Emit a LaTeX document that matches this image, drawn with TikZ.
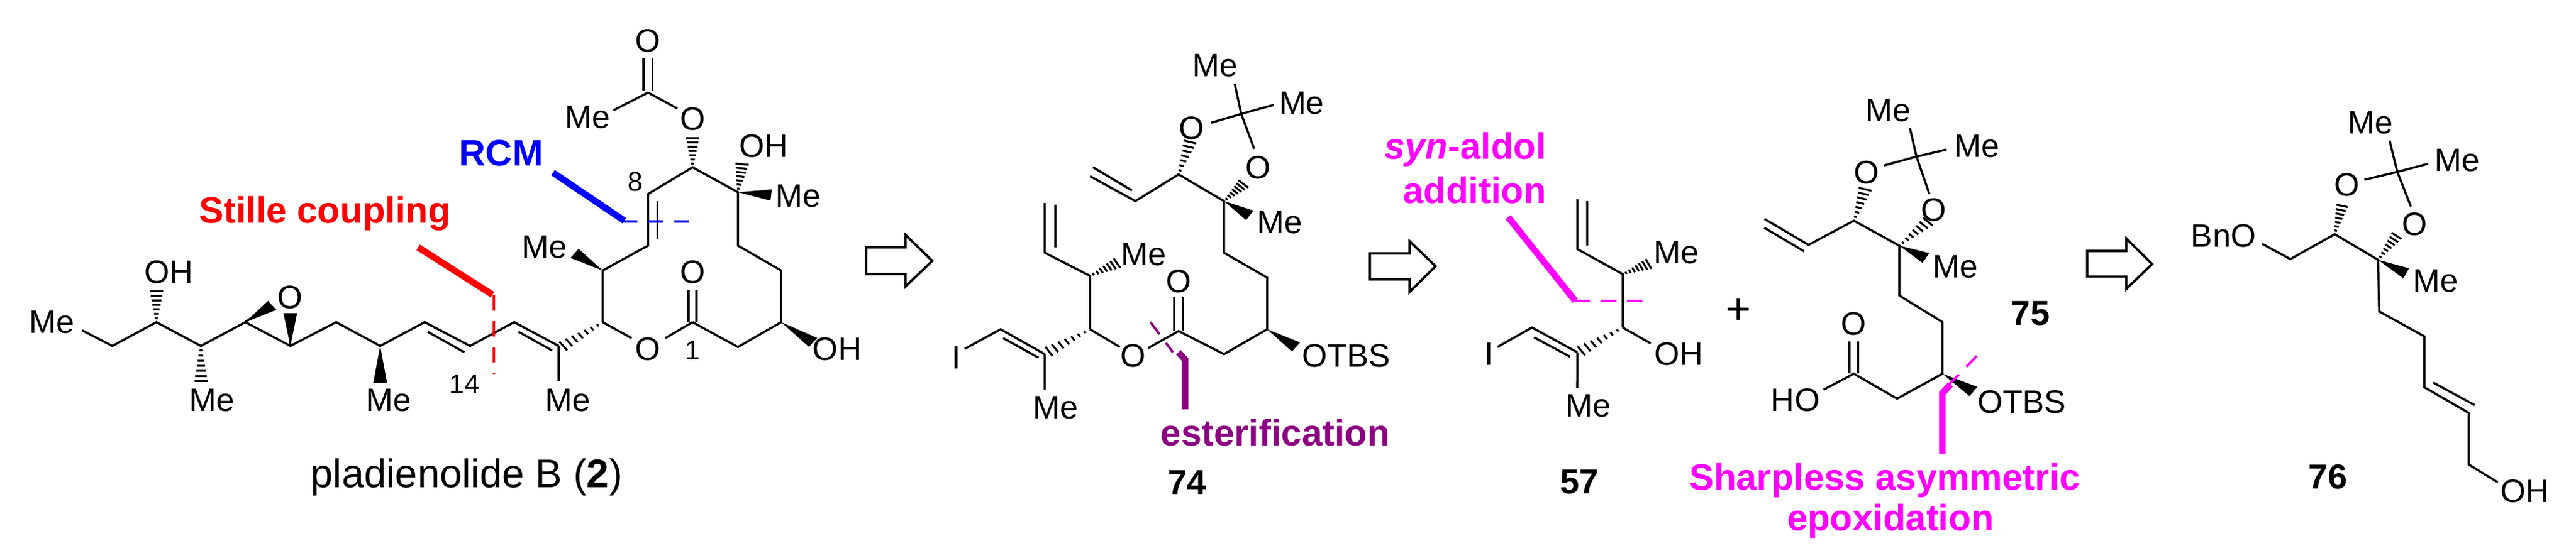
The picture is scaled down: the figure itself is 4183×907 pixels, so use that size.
\documentclass[tikz,border=0pt]{standalone}
\usepackage{fontspec}
\setmainfont{Liberation Sans}
\usetikzlibrary{calc}
\definecolor{esterc}{RGB}{140,0,130}
\definecolor{magc}{RGB}{255,0,255}
\newcommand\hashbond[2]{\foreach \t in {0.12,0.26,...,0.98}{\pgfmathsetmacro\hw{0.5+\t*4}\path ($(#1)!\t!(#2)$) coordinate (hp); \draw[line width=0.9pt] ($(hp)!\hw pt!90:(#1)$) -- ($(hp)!\hw pt!-90:(#1)$);}}
\newcommand\wedgebond[2]{\fill (#1) -- ($(#2)!4.5pt!90:(#1)$) -- ($(#2)!4.5pt!-90:(#1)$) -- cycle;}
\tikzset{every node/.style={font=\fontsize{15}{18}\selectfont, inner sep=0pt},
  bond/.style={line width=1pt},
  small/.style={font=\fontsize{12.5}{14}\selectfont},
  cmpd/.style={font=\fontsize{16}{18}\selectfont\bfseries},
  thickline/.style={line width=3pt},
  cutline/.style={line width=1.1pt, dash pattern=on 7pt off 5pt},
  retro/.style={line width=1.1pt, fill=white}}
\begin{document}
\begin{tikzpicture}[x=0.01cm,y=-0.01cm]
\useasboundingbox (0,0) rectangle (4183,907);
\begin{scope}[xscale=0.7015, yscale=0.5785]
% ---------- pladienolide B
\node (me1) at (120,905) {Me};
\node (oh1) at (390,765) {OH};
\node (me2) at (490,1125) {Me};
\node (oep) at (672,835) {O};
\node (me3) at (900,1125) {Me};
\node[small] (n14) at (1075,1080) {14};
\node (me4) at (1315,1125) {Me};
\node (oring) at (1500,980) {O};
\node (me5) at (1260,695) {Me};
\node[small] (n8) at (1470,510) {8};
\node (oac) at (1500,115) {O};
\node (meac) at (1360,330) {Me};
\node (oest) at (1603,335) {O};
\node (oh2) at (1768,410) {OH};
\node (me6) at (1848,550) {Me};
\node (oh3) at (1938,980) {OH};
\node (ocarb) at (1603,765) {O};
\node[small] (n1) at (1603,985) {1};
\node[font=\fontsize{18.5}{20}\selectfont] (plab) at (1080,1340) {pladienolide B (\textbf{2})};
\foreach \n/\p in {a1/{190,928},a2/{260,972},a3/{362,905},a4/{465,972},a5/{568,905},a6/{672,972},a7/{778,905},a8/{880,972},a9/{983,905},a10/{1088,972},a11/{1190,905},a12/{1293,972},a13/{1395,905},a14/{1395,760},a15/{1500,690},a16/{1500,545},a17/{1603,470},a18/{1708,540},a19/{1708,690},a20/{1808,760},a21/{1808,905},a22/{1708,975},a23/{1603,905},acc/{1500,260}}
  \coordinate (\n) at (\p);
\draw[bond] (a1)--(a2)--(a3)--(a4)--(a5)--(a6)--(a7)--(a8)--(a9)--(a10)--(a11)--(a12);
\draw[bond] (a5)--(620,860) (a6)--(672,885);
\wedgebond{a5}{630,858}
\wedgebond{a6}{672,880}
\hashbond{a3}{362,815}
\hashbond{a4}{465,1075}
\wedgebond{a8}{880,1075}
\draw[bond] (990,932)--(1075,990);
\draw[bond] (1200,932)--(1278,985);
\draw[bond] (a12)--(1293,1070);
\hashbond{a13}{1300,975}
\draw[bond] (a13)--(1462,950) (1540,950)--(a23);
\draw[bond] (a13)--(a14)--(a15)--(a16)--(a17)--(a18)--(a19)--(a20)--(a21)--(a22)--(a23);
\wedgebond{a14}{1330,712}
\draw[bond] (1522,565)--(1522,672);
\hashbond{a17}{1603,385}
\draw[bond] (acc)--(1568,305) (acc)--(1420,310);
\draw[bond] (1490,165)--(1490,255) (1510,165)--(1510,255);
\hashbond{a18}{1718,458}
\wedgebond{a18}{1785,548}
\wedgebond{a21}{1882,962}
\draw[bond] (1594,815)--(1594,905) (1612,815)--(1612,905);
% cuts
\draw[red,cutline] (1143,830)--(1143,1050);
\draw[red,thickline] (968,695)--(1140,828);
\node[red,font=\fontsize{17}{18}\selectfont\bfseries] (stille) at (752,600) {Stille coupling};
\draw[blue,cutline] (1440,622)--(1615,622);
\draw[blue,thickline] (1280,485)--(1445,620);
\node[blue,font=\fontsize{17}{18}\selectfont\bfseries] (rcm) at (1160,430) {RCM};
% ---------- arrow 1
\draw[retro] (2005,695)--(2096,695)--(2096,660)--(2158,733)--(2096,805)--(2096,770)--(2005,770)--cycle;
% ---------- 74
\node (i74) at (2213,1005) {I};
\node (me74a) at (2443,1145) {Me};
\node (me74b) at (2648,715) {Me};
\node (o74) at (2623,1000) {O};
\node (oc74) at (2728,790) {O};
\node[anchor=west] (otbs74) at (3013,1000) {OTBS};
\node (me74c) at (2963,625) {Me};
\node (o74b) at (2913,470) {O};
\node (o74a) at (2758,360) {O};
\node (me74d) at (2813,185) {Me};
\node (me74e) at (3013,290) {Me};
\node[cmpd] (l74) at (2748,1355) {74};
\foreach \n/\p in {b1/{2233,980},b2/{2316,925},b3/{2418,995},b4/{2523,925},b5/{2523,775},b6/{2418,710},b7/{2418,570},b8/{2728,930},b9/{2833,995},b10/{2933,925},b11/{2933,780},b12/{2833,710},b13/{2833,565},b14/{2728,490},b15/{2628,565},b16/{2523,495},ac2/{2873,320}}
  \coordinate (\n) at (\p);
\draw[bond] (b1)--(b2)--(b3) (2322,950)--(2404,1005) (b3)--(2418,1095);
\hashbond{b4}{2424,990}
\draw[bond] (b4)--(b5)--(b6)--(b7) (2443,575)--(2443,695);
\hashbond{b5}{2588,738}
\draw[bond] (b4)--(2592,975) (2658,978)--(b8)--(b9)--(b10)--(b11)--(b12)--(b13)--(b14)--(b15)--(b16);
\draw[bond] (2530,470)--(2620,535);
\draw[bond] (2718,835)--(2718,930) (2738,835)--(2738,930);
\wedgebond{b10}{3000,975}
\wedgebond{b13}{2893,605}
\hashbond{b13}{2880,515}
\hashbond{b14}{2755,395}
\draw[bond] (2803,345)--(ac2)--(2903,418) (ac2)--(2858,235) (ac2)--(2948,295);
\draw[esterc,cutline] (2663,905)--(2715,990);
\draw[esterc,thickline] (2728,990)--(2743,1010)--(2743,1150);
\node[esterc,font=\fontsize{17}{18}\selectfont\bfseries] (ester) at (2952,1215) {esterification};
% ---------- arrow 2
\draw[retro] (3171,712)--(3263,712)--(3263,678)--(3323,748)--(3263,820)--(3263,785)--(3171,785)--cycle;
% ---------- 57
\node (i57) at (3446,995) {I};
\node (me57a) at (3676,1140) {Me};
\node (oh57) at (3886,995) {OH};
\node (me57b) at (3881,710) {Me};
\node[cmpd] (l57) at (3656,1355) {57};
\foreach \n/\p in {c1/{3466,975},c2/{3546,920},c3/{3651,990},c4/{3756,920},c5/{3756,770},c6/{3651,700},c7/{3651,560}}
  \coordinate (\n) at (\p);
\draw[bond] (c1)--(c2)--(c3) (3551,948)--(3634,1002) (c3)--(3651,1090);
\hashbond{c4}{3656,988}
\draw[bond] (c4)--(3821,965) (c4)--(c5)--(c6)--(c7) (3674,565)--(3674,690);
\hashbond{c5}{3818,740}
\draw[magc,cutline] (3646,845)--(3811,845);
\draw[magc,thickline] (3491,610)--(3646,845);
\node[magc,font=\fontsize{17}{18}\selectfont\bfseries,anchor=east] (syn) at (3580,420) {\textit{syn}-aldol};
\node[magc,font=\fontsize{17}{18}\selectfont\bfseries,anchor=east] (add) at (3580,535) {addition};
\node[font=\fontsize{20}{20}\selectfont] (plus) at (4024,875) {+};
% ---------- 75
\node (o75a) at (4321,485) {O};
\node (o75b) at (4476,590) {O};
\node (me75a) at (4526,750) {Me};
\node (me75b) at (4371,310) {Me};
\node (me75c) at (4576,410) {Me};
\node (o75c) at (4291,910) {O};
\node (ho75) at (4156,1125) {HO};
\node (otbs75) at (4680,1130) {OTBS};
\node[magc,font=\fontsize{17}{18}\selectfont\bfseries] (sharp) at (4363,1350) {Sharpless asymmetric};
\node[magc,font=\fontsize{17}{18}\selectfont\bfseries] (epox) at (4376,1465) {epoxidation};
\foreach \n/\p in {d1/{4084,615},d2/{4186,688},d3/{4291,620},d4/{4396,690},d5/{4396,830},d6/{4496,905},d7/{4496,1050},d8/{4391,1120},d9/{4291,1050},ac3/{4436,440}}
  \coordinate (\n) at (\p);
\draw[bond] (d1)--(d2)--(d3)--(d4)--(d5)--(d6)--(d7)--(d8)--(d9)--(4221,1095);
\draw[bond] (4084,640)--(4176,706);
\hashbond{d3}{4318,528}
\hashbond{d4}{4465,620}
\wedgebond{d4}{4458,725}
\wedgebond{d7}{4568,1100}
\draw[bond] (4281,960)--(4281,1050) (4301,960)--(4301,1050);
\draw[bond] (4361,465)--(ac3)--(4466,545) (ac3)--(4421,360) (ac3)--(4506,420);
\draw[magc,cutline] (4576,1000)--(4500,1095);
\draw[magc,thickline] (4515,1080)--(4496,1105)--(4496,1275);
\end{scope}
\node[cmpd] (l75) at (3297,509) {75};
% ---------- 76
\begin{scope}[shift={(3200,0)},xscale=0.627, yscale=0.5785]
\draw[retro] (302,705)--(403,705)--(403,670)--(470,742)--(403,812)--(403,777)--(302,777)--cycle;
\node (bno) at (655,662) {BnO};
\node (o76a) at (975,520) {O};
\node (o76b) at (1150,630) {O};
\node (me76a) at (1205,790) {Me};
\node (me76b) at (1035,345) {Me};
\node (me76c) at (1260,450) {Me};
\node (oh76) at (1435,1380) {OH};
\node[cmpd] (l76) at (925,1340) {76};
\foreach \n/\p in {e1/{755,685},e2/{828,728},e3/{943,658},e4/{1055,730},e5/{1058,875},e6/{1175,945},e7/{1175,1088},e8/{1290,1160},e9/{1290,1305},ac4/{1105,483}}
  \coordinate (\n) at (\p);
\draw[bond] (e1)--(e2)--(e3)--(e4)--(e5)--(e6)--(e7)--(e8)--(e9)--(1365,1355);
\draw[bond] (1198,1075)--(1305,1138);
\hashbond{e3}{962,575}
\hashbond{e4}{1105,660}
\wedgebond{e4}{1128,768}
\draw[bond] (1020,505)--(ac4)--(1140,580) (ac4)--(1085,395) (ac4)--(1185,460);
\end{scope}
\end{tikzpicture}
\end{document}
